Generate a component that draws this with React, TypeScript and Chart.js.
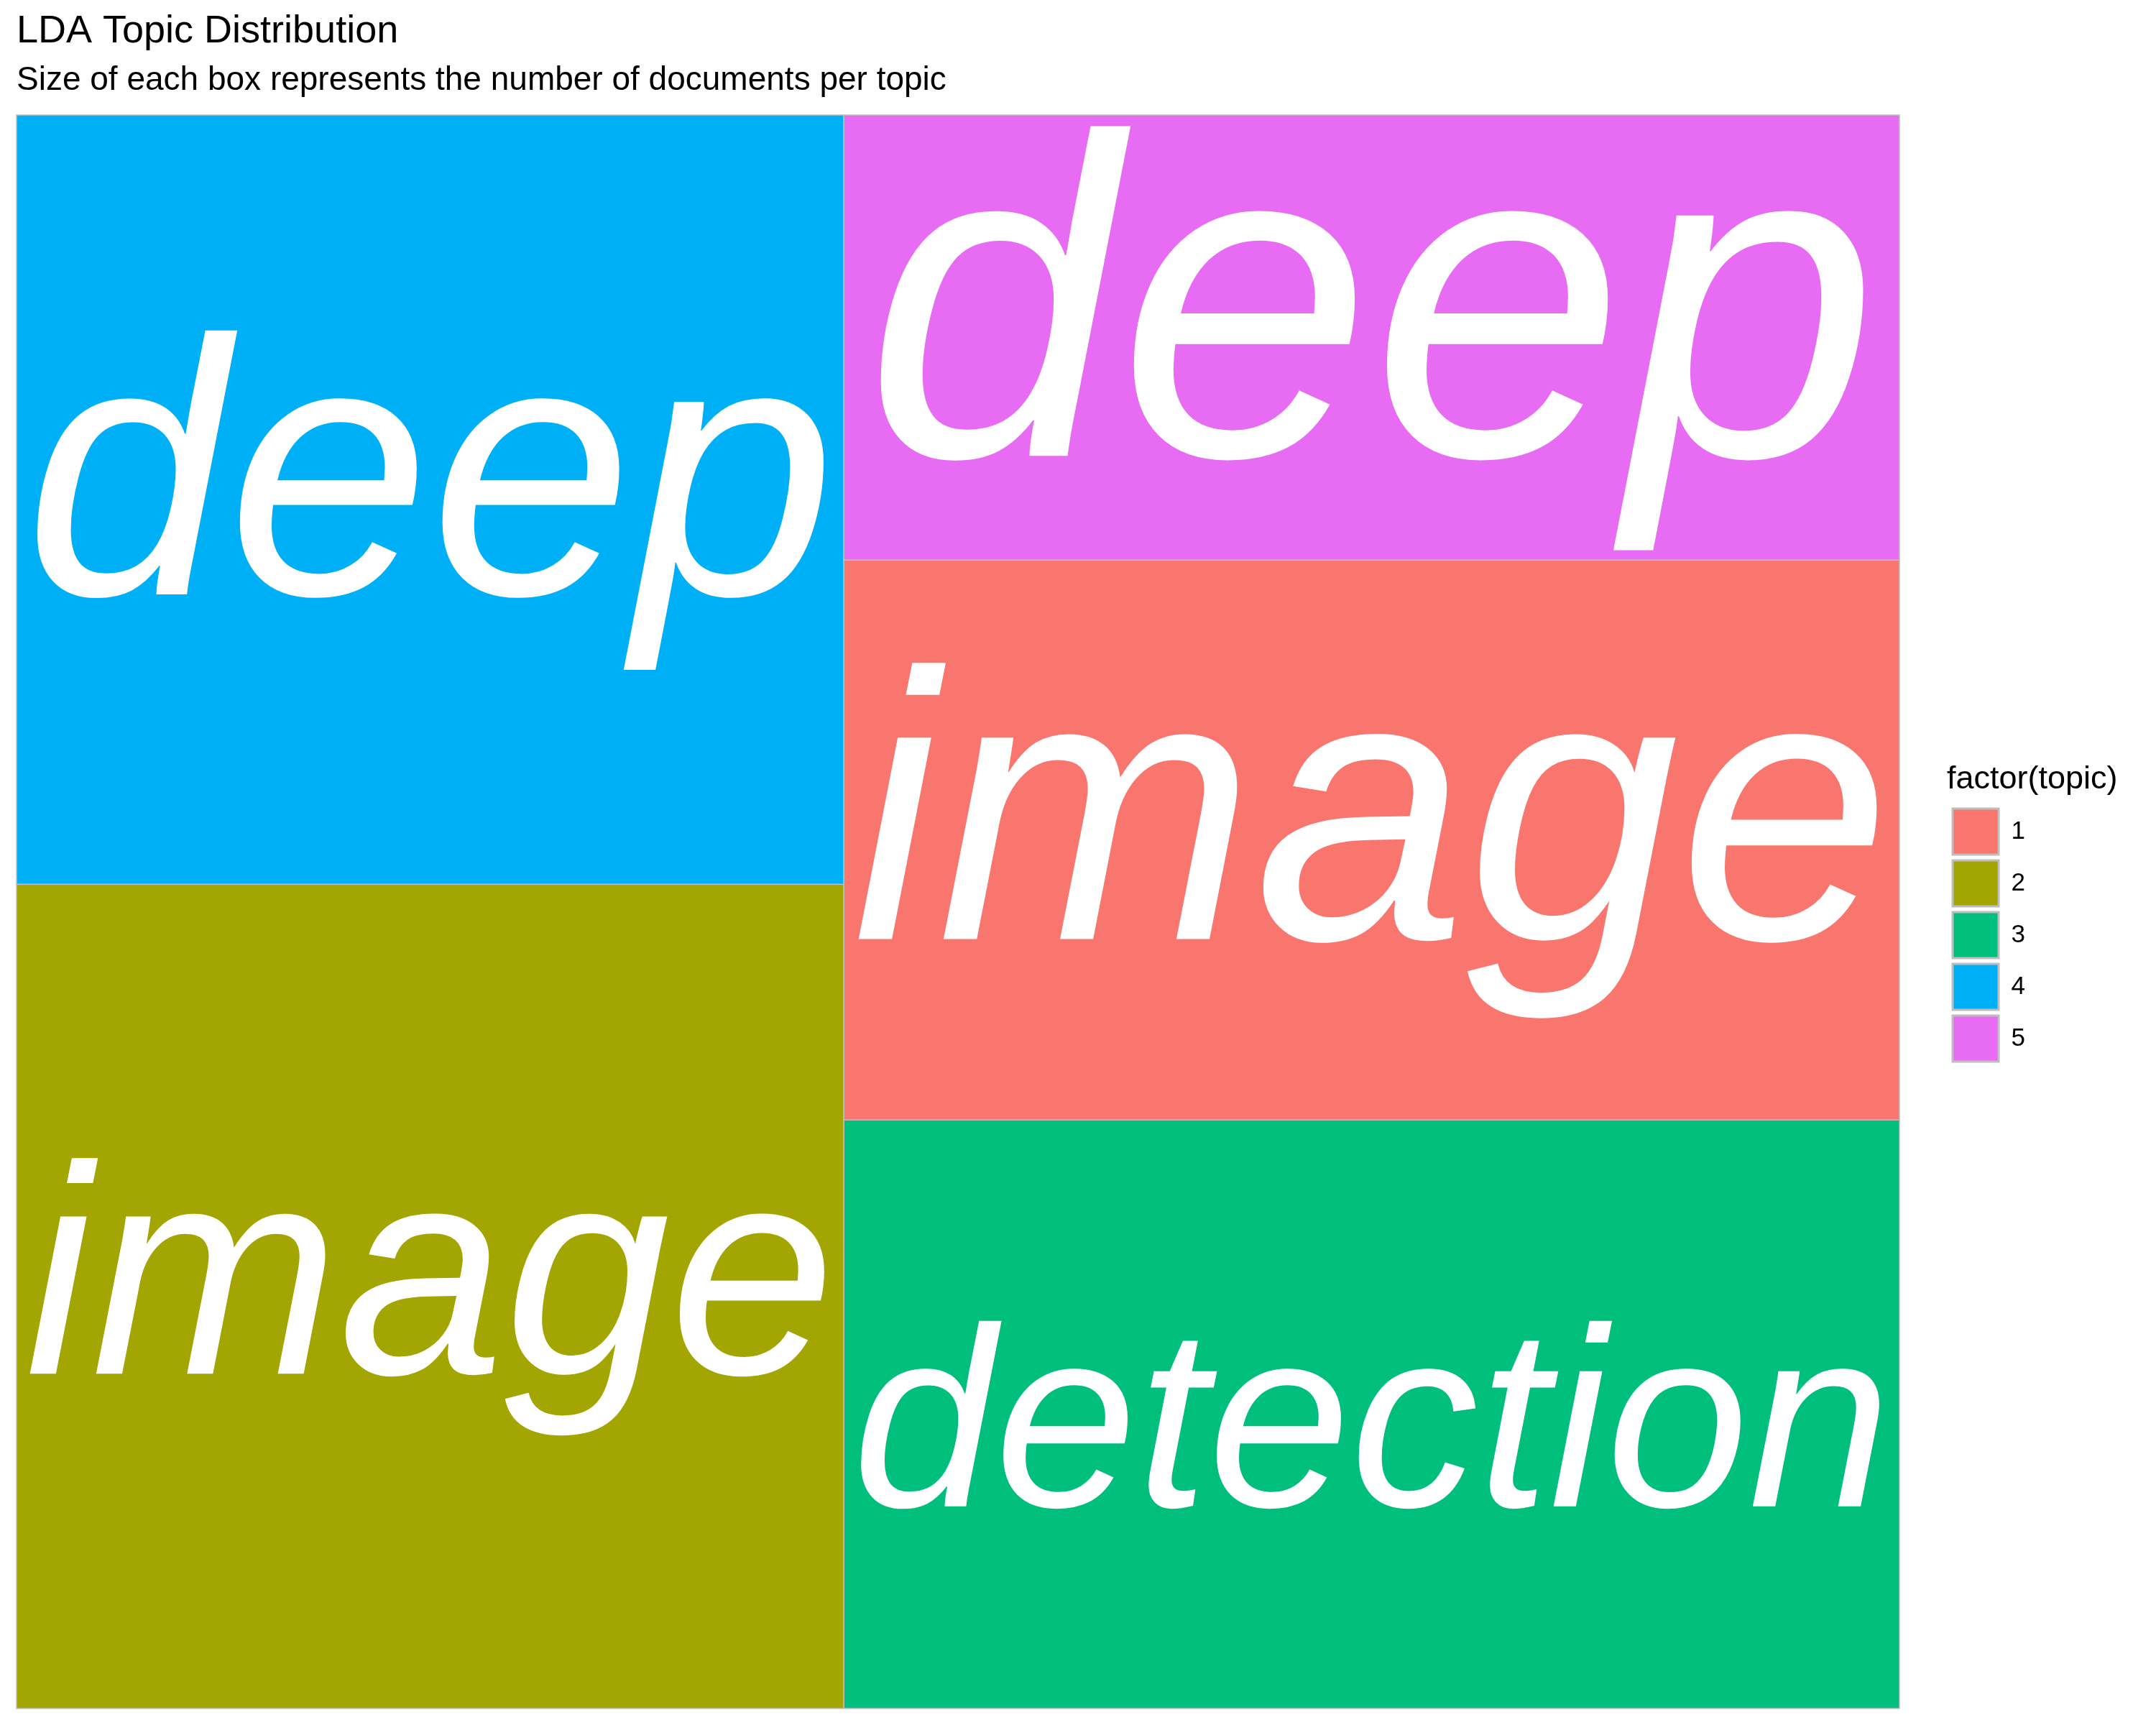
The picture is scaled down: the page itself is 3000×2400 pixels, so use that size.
import { useEffect, useRef } from "react"
import { Chart, registerables } from "chart.js"
import type { Plugin } from "chart.js"

Chart.register(...registerables)

// topic data (documents per topic and the top term of each topic)
const topics = [1, 2, 3, 4, 5]
const docCounts = [39, 45, 41, 42, 31]
const topTerms = ["image", "image", "detection", "deep", "deep"]
const topicColors = ["#F8766D", "#A3A500", "#00BF7D", "#00B0F6", "#E76BF3"]

const FONT = "'Liberation Sans', Arial, Helvetica, sans-serif"

interface Cell {
  idx: number
  x: number
  y: number
  w: number
  h: number
}

// squarified layout in the unit square, first row at the bottom-left
function squarify(values: number[]): Cell[] {
  const total = values.reduce((a, b) => a + b, 0)
  const items = values
    .map((v, idx) => ({ idx, area: v / total }))
    .sort((a, b) => b.area - a.area)
  const cells: Cell[] = []
  let x = 0
  let y = 0
  let w = 1
  let h = 1

  const worst = (row: number[], side: number) => {
    const s = row.reduce((a, b) => a + b, 0)
    let m = 0
    row.forEach((r) => {
      m = Math.max(m, (side * side * r) / (s * s), (s * s) / (side * side * r))
    })
    return m
  }

  let i = 0
  while (i < items.length) {
    const side = Math.min(w, h)
    const row = [items[i]]
    i++
    while (
      i < items.length &&
      worst([...row, items[i]].map((r) => r.area), side) <= worst(row.map((r) => r.area), side)
    ) {
      row.push(items[i])
      i++
    }
    const rowArea = row.reduce((a, r) => a + r.area, 0)
    if (w >= h) {
      // column on the left, stacked upward
      const colW = rowArea / h
      let cy = y
      row.forEach((r) => {
        const ch = r.area / colW
        cells.push({ idx: r.idx, x, y: cy, w: colW, h: ch })
        cy += ch
      })
      x += colW
      w -= colW
    } else {
      // row at the bottom, left to right
      const rowH = rowArea / w
      let cx = x
      row.forEach((r) => {
        const cw = r.area / rowH
        cells.push({ idx: r.idx, x: cx, y, w: cw, h: rowH })
        cx += cw
      })
      y += rowH
      h -= rowH
    }
  }
  return cells
}

const treemapPlugin: Plugin<"scatter"> = {
  id: "treemapCells",
  afterInit(chart) {
    // legend is clipped to its box, keep it wide enough for the title
    const legend = chart.legend as any
    if (!legend) return
    const origFit = legend.fit.bind(legend)
    legend.fit = () => {
      origFit()
      legend.width = Math.max(legend.width, 291)
    }
  },
  beforeDatasetsDraw(chart) {
    const { ctx } = chart
    const xs = chart.scales.x
    const ys = chart.scales.y
    const cells = squarify(docCounts)
    const pad = 12

    ctx.save()
    cells.forEach((c) => {
      const left = xs.getPixelForValue(c.x)
      const right = xs.getPixelForValue(c.x + c.w)
      const top = ys.getPixelForValue(c.y + c.h)
      const bottom = ys.getPixelForValue(c.y)
      const bw = right - left
      const bh = bottom - top

      ctx.fillStyle = topicColors[c.idx]
      ctx.fillRect(left, top, bw, bh)
      ctx.strokeStyle = "#BEBEBE"
      ctx.lineWidth = 1.5
      ctx.strokeRect(left, top, bw, bh)

      // grow the label to fill the box
      const label = topTerms[c.idx]
      ctx.font = `italic 100px ${FONT}`
      const m = ctx.measureText(label)
      const adv = m.width / 100
      const asc = m.actualBoundingBoxAscent / 100
      const desc = m.actualBoundingBoxDescent / 100
      const size = Math.min((bw - 2 * pad) / adv, (bh - 2 * pad) / (asc + desc))
      ctx.font = `italic ${size}px ${FONT}`
      ctx.fillStyle = "#FFFFFF"
      ctx.textAlign = "center"
      ctx.textBaseline = "alphabetic"
      ctx.fillText(label, left + bw / 2, top + bh / 2 + ((asc - desc) * size) / 2)
    })
    ctx.restore()
  },
}

export default function App() {
  const chartRef = useRef<HTMLCanvasElement>(null)
  const chartInstance = useRef<Chart | null>(null)

  useEffect(() => {
    if (!chartRef.current) return
    if (chartInstance.current) {
      chartInstance.current.destroy()
    }
    const ctx = chartRef.current.getContext("2d")
    if (!ctx) return

    Chart.defaults.font.family = FONT
    Chart.defaults.color = "#000000"

    chartInstance.current = new Chart(ctx, {
      type: "scatter",
      data: { datasets: [] },
      options: {
        animation: false,
        responsive: true,
        maintainAspectRatio: false,
        devicePixelRatio: 1,
        layout: { padding: { left: 23, right: 0, top: 0, bottom: 23 } },
        scales: {
          x: { type: "linear", min: 0, max: 1, display: false },
          y: { type: "linear", min: 0, max: 1, display: false },
          gap: {
            type: "linear",
            position: "right",
            display: true,
            grid: { display: false },
            ticks: { display: false },
            border: { display: false },
            afterFit: (scale) => {
              scale.width = 66
            },
          },
        },
        plugins: {
          title: {
            display: true,
            text: "LDA Topic Distribution",
            align: "start",
            color: "#000000",
            font: { size: 54, weight: "normal", family: FONT },
            padding: { top: 12, bottom: 0 },
          },
          subtitle: {
            display: true,
            text: "Size of each box represents the number of documents per topic",
            align: "start",
            color: "#000000",
            font: { size: 46, weight: "normal", family: FONT },
            padding: { top: 8, bottom: 20 },
          },
          legend: {
            display: true,
            position: "right",
            align: "center",
            fullSize: false,
            title: {
              display: true,
              text: "factor(topic)",
              position: "start",
              color: "#000000",
              font: { size: 45, family: FONT },
              padding: { top: 10, bottom: 1 },
            },
            labels: {
              boxWidth: 64,
              boxHeight: 64,
              padding: 8,
              color: "#000000",
              font: { size: 35, family: FONT },
              generateLabels: () =>
                topics.map((t, i) => ({
                  text: String(t),
                  fillStyle: topicColors[i],
                  strokeStyle: "#BEBEBE",
                  lineWidth: 3,
                  hidden: false,
                  index: i,
                })),
            },
          },
          tooltip: { enabled: false },
        },
      },
      plugins: [treemapPlugin],
    })

    return () => {
      if (chartInstance.current) {
        chartInstance.current.destroy()
        chartInstance.current = null
      }
    }
  }, [])

  return (
    <div style={{ position: "absolute", left: 0, top: 0, width: 3000, height: 2400, background: "#FFFFFF" }}>
      <canvas ref={chartRef} />
    </div>
  )
}
